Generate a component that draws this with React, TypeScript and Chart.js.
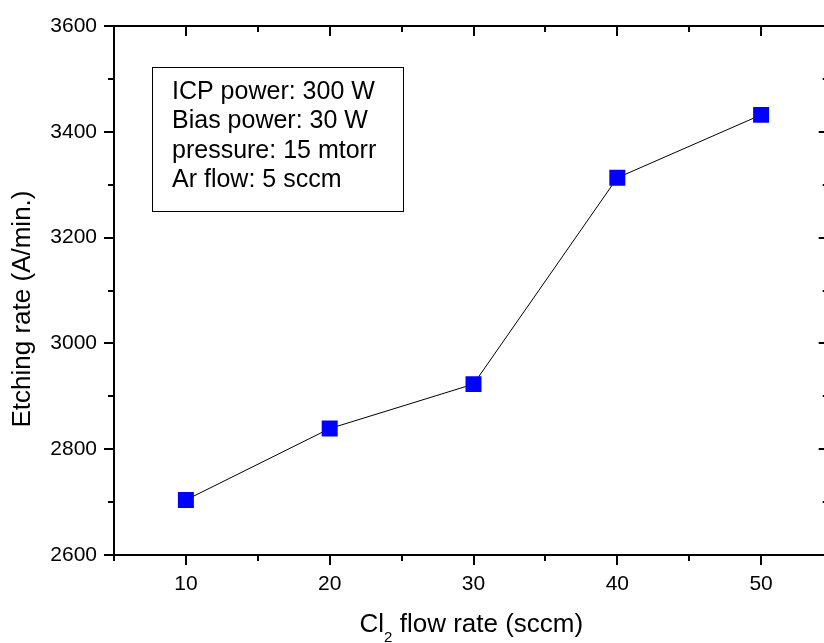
import React, { useEffect, useRef } from 'react';
import { Chart, registerables } from 'chart.js';

Chart.register(...registerables);

// ---- data ----
const flowRates = [10, 20, 30, 40, 50];
const etchRates = [2704, 2839, 2923, 3313, 3432];
const xTickValues = [10, 20, 30, 40, 50];
const xMinorTickValues = [5, 15, 25, 35, 45];
const yTickValues = [2600, 2800, 3000, 3200, 3400, 3600];
const yMinorTickValues = [2700, 2900, 3100, 3300, 3500];
const annotationLines = ['ICP power: 300 W', 'Bias power: 30 W', 'pressure: 15 mtorr', 'Ar flow: 5 sccm'];
const xTitleParts = ['Cl', '2', ' flow rate (sccm)'];
const yTitle = 'Etching rate (A/min.)';

const FONT = 'Arial, "Liberation Sans", sans-serif';

const framePlugin = {
  id: 'originFrame',
  afterDraw(chart: any) {
    const { ctx, chartArea, scales } = chart;
    const { left, right, top, bottom } = chartArea;
    const xs = scales.x;
    const ys = scales.y;
    ctx.save();
    ctx.strokeStyle = '#000';
    ctx.lineWidth = 2;
    ctx.strokeRect(left, top, right - left, bottom - top);
    const line = (x1: number, y1: number, x2: number, y2: number) => {
      ctx.beginPath();
      ctx.moveTo(x1, y1);
      ctx.lineTo(x2, y2);
      ctx.stroke();
    };
    const MAJ = 10;
    const MIN = 6;
    xTickValues.forEach((v) => {
      const p = Math.round(xs.getPixelForValue(v));
      line(p, bottom, p, bottom + MAJ);
      line(p, top, p, top + MAJ);
    });
    xMinorTickValues.forEach((v) => {
      const p = Math.round(xs.getPixelForValue(v));
      line(p, bottom, p, bottom + MIN);
      line(p, top, p, top + MIN);
    });
    yTickValues.forEach((v) => {
      const p = Math.round(ys.getPixelForValue(v));
      line(left - MAJ, p, left, p);
      line(right - MAJ, p, right, p);
    });
    yMinorTickValues.forEach((v) => {
      const p = Math.round(ys.getPixelForValue(v));
      line(left - MIN, p, left, p);
      line(right - MIN, p, right, p);
    });

    // annotation box
    ctx.lineWidth = 1;
    ctx.strokeRect(152.5, 67.5, 251, 144);
    ctx.fillStyle = '#000';
    ctx.font = `25px ${FONT}`;
    ctx.textAlign = 'left';
    ctx.textBaseline = 'alphabetic';
    annotationLines.forEach((t, i) => {
      ctx.fillText(t, 172, 99 + i * 29.4);
    });

    // x title with subscript
    ctx.font = `26px ${FONT}`;
    const w1 = ctx.measureText(xTitleParts[0]).width;
    const w3 = ctx.measureText(xTitleParts[2]).width;
    ctx.font = `15px ${FONT}`;
    const w2 = ctx.measureText(xTitleParts[1]).width;
    const total = w1 + w2 + w3;
    let sx = (left + right) / 2 - total / 2;
    ctx.font = `26px ${FONT}`;
    ctx.fillText(xTitleParts[0], sx, 632);
    sx += w1;
    ctx.font = `15px ${FONT}`;
    ctx.fillText(xTitleParts[1], sx, 642);
    sx += w2;
    ctx.font = `26px ${FONT}`;
    ctx.fillText(xTitleParts[2], sx, 632);

    // y title
    ctx.save();
    ctx.translate(30, 309);
    ctx.rotate(-Math.PI / 2);
    ctx.textAlign = 'center';
    ctx.fillText(yTitle, 0, 0);
    ctx.restore();

    ctx.restore();
  },
};

export default function App() {
  const ref = useRef<HTMLCanvasElement>(null);
  useEffect(() => {
    if (!ref.current) return;
    const chart = new Chart(ref.current, {
      type: 'line',
      data: {
        datasets: [
          {
            data: flowRates.map((x, i) => ({ x, y: etchRates[i] })),
            borderColor: '#000',
            borderWidth: 1,
            pointStyle: 'rect',
            pointRadius: 11.3,
            pointBackgroundColor: '#0000ff',
            pointBorderColor: '#0000ff',
            pointBorderWidth: 0,
            tension: 0,
            fill: false,
          },
        ],
      },
      options: {
        animation: false,
        responsive: false,
        devicePixelRatio: 1,
        layout: { padding: { top: 26, right: 10, left: 0, bottom: 0 } },
        plugins: { legend: { display: false }, tooltip: { enabled: false } },
        scales: {
          x: {
            type: 'linear',
            min: 5,
            max: 54.7,
            afterBuildTicks: (s: any) => {
              s.ticks = xTickValues.map((v) => ({ value: v }));
            },
            afterFit: (s: any) => {
              s.height = 88;
            },
            grid: {
              display: true,
              drawOnChartArea: false,
              drawTicks: true,
              tickLength: 10,
              color: 'rgba(0,0,0,0)',
              tickColor: 'rgba(0,0,0,0)',
            },
            border: { display: false },
            ticks: {
              autoSkip: false,
              maxRotation: 0,
              padding: 7,
              color: '#000',
              font: { size: 21, family: FONT },
              callback: (v: any) => String(v),
            },
          },
          y: {
            type: 'linear',
            min: 2600,
            max: 3600,
            afterBuildTicks: (s: any) => {
              s.ticks = yTickValues.map((v) => ({ value: v }));
            },
            afterFit: (s: any) => {
              s.width = 114;
            },
            grid: {
              display: true,
              drawOnChartArea: false,
              drawTicks: true,
              tickLength: 10,
              color: 'rgba(0,0,0,0)',
              tickColor: 'rgba(0,0,0,0)',
            },
            border: { display: false },
            ticks: {
              autoSkip: false,
              padding: 7,
              color: '#000',
              font: { size: 21, family: FONT },
              callback: (v: any) => String(v),
            },
          },
        },
      },
      plugins: [framePlugin],
    });
    return () => chart.destroy();
  }, []);

  return (
    <div
      style={{
        position: 'fixed',
        left: 0,
        top: 0,
        width: 824,
        height: 643,
        overflow: 'hidden',
        background: '#fff',
      }}
    >
      <canvas ref={ref} width={840} height={643} style={{ width: 840, height: 643, display: 'block' }} />
    </div>
  );
}
